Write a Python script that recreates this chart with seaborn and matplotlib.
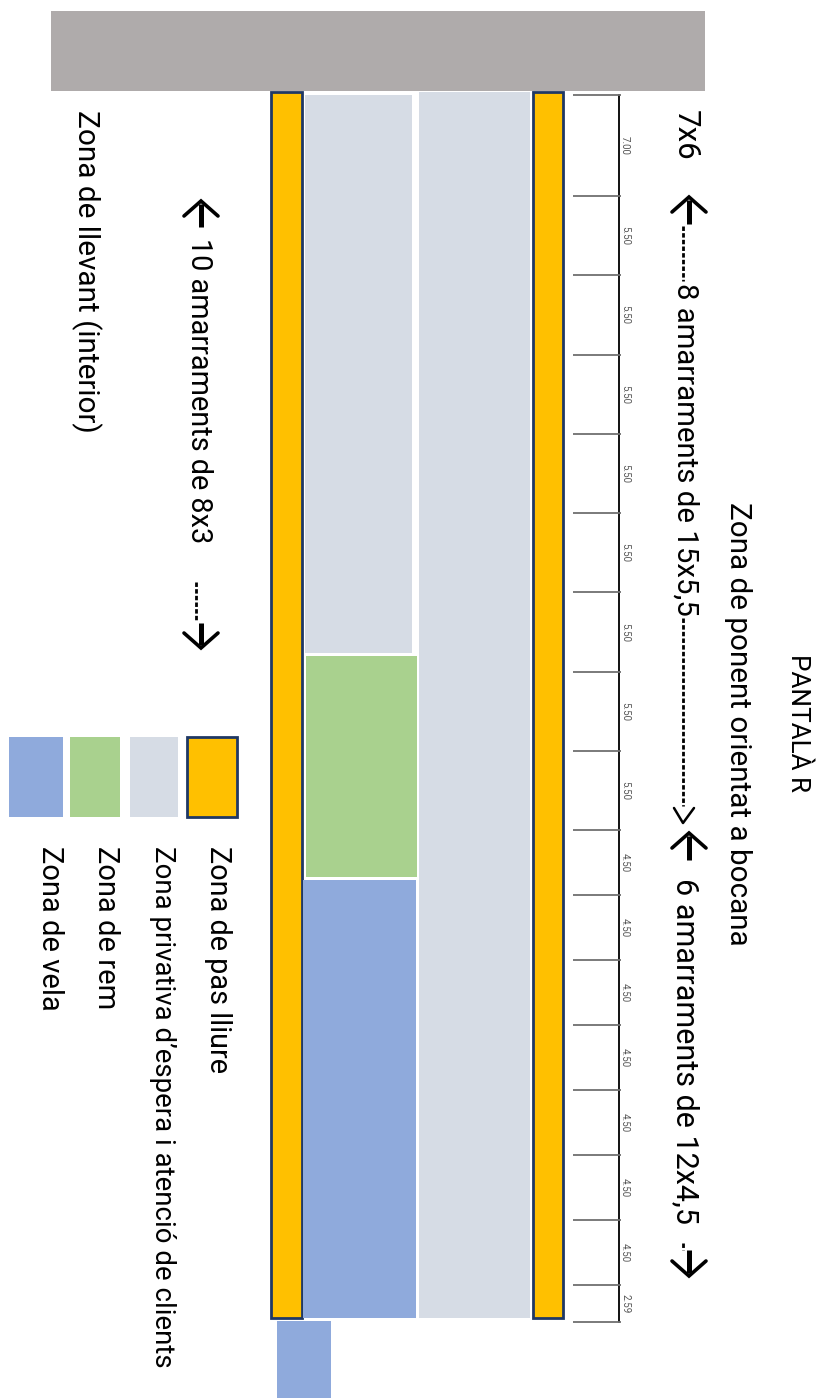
import numpy as np
import pandas as pd
import seaborn as sns
import matplotlib.pyplot as plt
from matplotlib.patches import Rectangle

# Mides dels amarraments (m), tal com surten a la regla
amarraments = [7.00] + [5.50] * 8 + [4.50] * 7 + [2.59]

# Zones en metres: nom, inici i ample (través), inici i llargada (al llarg)
zones = ["mur", "pas_est", "pas_oest", "privativa_a", "privativa_b", "rem", "vela", "vela_b"]
zona_x = [3.54, 36.96, 18.79, 29.06, 21.15, 21.22, 21.01, 19.21]
zona_ample = [45.35, 2.08, 2.15, 7.70, 7.42, 7.70, 7.84, 3.74]
zona_y = [-5.83, -0.21, -0.21, -0.21, 0.0, 38.90, 54.44, 85.02]
zona_llarg = [5.55, 85.02, 85.02, 85.02, 38.70, 15.33, 30.37, 5.40]
zona_color = ["#AFABAB", "#FFC000", "#FFC000", "#D6DCE5", "#D6DCE5", "#A9D18E", "#8FAADC", "#8FAADC"]

llegenda = ["Zona de pas lliure", "Zona privativa d\u2019espera i atenció de clients", "Zona de rem", "Zona de vela"]
llegenda_color = ["#FFC000", "#D6DCE5", "#A9D18E", "#8FAADC"]
llegenda_x = [187, 130, 70, 9]
llegenda_w = [50, 48, 50, 54]

PX = 14.42  # pixels per metre
W, H = 826, 1398
Y0 = 95


def mx(px):
    return px / PX


def my(px):
    return (px - Y0) / PX


sns.set_theme(style="white")
plt.rcParams['font.family'] = ['Roboto', 'DejaVu Sans']

fig = plt.figure(figsize=(W / 100, H / 100), dpi=100)
ax = fig.add_axes([0, 0, 1, 1])

# Zones del pantalà
for nom, x, w, y, l, c in zip(zones, zona_x, zona_ample, zona_y, zona_llarg, zona_color):
    pas = nom.startswith("pas")
    ax.add_patch(Rectangle((x, y), w, l, facecolor=c,
                           edgecolor="#1F3864" if pas else "none", linewidth=2 if pas else 0))

# Regla d'amarraments
limits = np.concatenate([[0], np.cumsum(amarraments)])
regla = pd.DataFrame({"x": mx(619) * np.ones(len(limits)), "y": limits})
sns.lineplot(data=regla, x="x", y="y", orient="y", sort=False, estimator=None,
             color="#111111", linewidth=1.4, ax=ax, legend=False)
ax.hlines(limits, mx(573), mx(621), color="#6f6f6f", linewidth=1.3)
centres = (limits[:-1] + limits[1:]) / 2
for c, v in zip(centres, amarraments):
    ax.text(mx(625), c, f"{v:.2f}", rotation=-90, ha="center", va="center",
            fontsize=7, color="#555555")

ax.set_xlim(0, mx(W))
ax.set_ylim(my(H), my(0))
ax.axis('off')

FS = 21.3


def rotul(txt, px_x, px_y, fs=FS):
    ax.text(mx(px_x), my(px_y), txt, rotation=-90, ha="center", va="top", fontsize=fs, color="black")


def fletxa(px_x, y_cua, y_punta):
    # tija gruixuda i cap obert
    sent = 1 if y_punta > y_cua else -1
    ax.plot([mx(px_x)] * 2, [my(y_cua), my(y_punta - sent * 3)], color="black", lw=3.6, solid_capstyle="butt")
    ax.plot([mx(px_x - 17), mx(px_x), mx(px_x + 17)],
            [my(y_punta - sent * 15), my(y_punta), my(y_punta - sent * 15)],
            color="black", lw=2.6, solid_joinstyle="miter")


def guions(px_x, y_ini, y_fi):
    ax.plot([mx(px_x)] * 2, [my(y_ini), my(y_fi)], color="black", lw=2, ls=(0, (1.6, 0.8)))


rotul("PANTALÀ R", 798, 654, 18.8)
rotul("Zona de ponent orientat a bocana", 738, 502)
rotul("7x6", 685, 110, 22.5)
fletxa(689, 224, 197)
guions(683, 226, 281)
rotul("8 amarraments de 15x5,5", 685, 283, 21.2)
guions(683, 618, 806)
ax.plot([mx(674), mx(683), mx(694)], [my(808), my(823), my(808)], color="black", lw=1.8)
fletxa(689, 860, 833)
rotul("6 amarraments de 12x4,5", 685, 878, 22)
guions(683, 1243, 1250)
fletxa(689, 1250, 1276)

fletxa(201, 227, 201)
rotul("10 amarraments de 8x3", 199, 238, 20.8)
guions(196, 582, 620)
fletxa(201, 623, 648)
rotul("Zona de llevant (interior)", 86, 110, 21.4)

# Llegenda
for txt, c, x, w, tx, fs in zip(llegenda, llegenda_color, llegenda_x, llegenda_w,
                                [218, 162, 106, 50], [20.8, 19.9, 21, 21]):
    vora = c == "#FFC000"
    ax.add_patch(Rectangle((mx(x), my(737)), w / PX, 80 / PX, facecolor=c,
                           edgecolor="#1F3864" if vora else "none", linewidth=2 if vora else 0))
    rotul(txt, tx, 846, fs)

fig.savefig("out.png", dpi=100)
